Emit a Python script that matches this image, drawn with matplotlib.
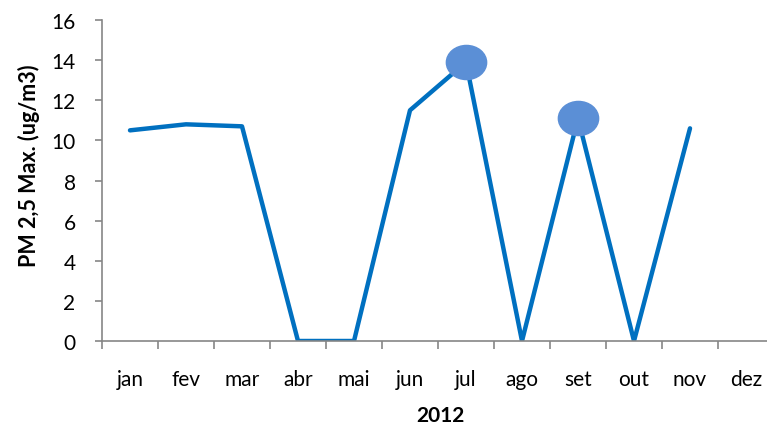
import numpy as np
import matplotlib
matplotlib.use("Agg")
import matplotlib.pyplot as plt
from matplotlib.path import Path
from matplotlib.transforms import Affine2D

months = ["jan", "fev", "mar", "abr", "mai", "jun", "jul", "ago", "set", "out", "nov", "dez"]
pm25_max = [10.5, 10.8, 10.7, 0.0, 0.0, 11.5, 13.9, 0.0, 11.1, 0.0, 10.6]
highlight = ["jul", "set"]

plt.rcParams['font.family'] = ['Lato', 'DejaVu Sans']

fig = plt.figure(figsize=(7.67, 4.27), dpi=100)
# axis runs past the right edge like the original
ax = fig.add_axes([102 / 767, 85 / 427, 672 / 767, 321 / 427])

x = np.arange(len(pm25_max))
ax.plot(x, pm25_max, color='#0070C0', linewidth=3.2, solid_joinstyle='round',
        solid_capstyle='round', zorder=2)

# ellipse markers on the highlighted months
ellipse = Path.unit_circle().transformed(Affine2D().scale(1.18, 1.0))
hx = [months.index(m) for m in highlight]
hy = [pm25_max[i] for i in hx]
ax.plot(hx, hy, linestyle='none', marker=ellipse, markersize=29,
        markerfacecolor='#5B8FD6', markeredgecolor='#5B8FD6', zorder=3)

ax.set_xlim(-0.5, len(months) - 0.5)
ax.set_ylim(0, 16)
ax.set_yticks(np.arange(0, 17, 2))
ax.set_xticks(np.arange(len(months)))
ax.set_xticklabels(months)
ax.set_xticks(np.arange(len(months) + 1) - 0.5, minor=True)

for side in ['top', 'right']:
    ax.spines[side].set_visible(False)
for side in ['left', 'bottom']:
    ax.spines[side].set_color('#868686')
    ax.spines[side].set_linewidth(1.2)

ax.tick_params(axis='y', which='major', length=5, width=1.2, color='#868686',
               labelsize=15, pad=14)
ax.tick_params(axis='x', which='major', length=0, labelsize=15, pad=20)
ax.tick_params(axis='x', which='minor', length=5.5, width=1.2, color='#868686')

ax.set_ylabel('PM 2,5 Max. (ug/m3)', fontsize=15.5, fontweight='bold')
ax.yaxis.set_label_coords(-(102 - 40) / 672, (342 - 166) / 321)
ax.set_xlabel('2012', fontsize=15, fontweight='bold')
ax.xaxis.set_label_coords((440 - 102) / 672, -(406 - 342) / 321)

fig.savefig('out.png', dpi=100)
